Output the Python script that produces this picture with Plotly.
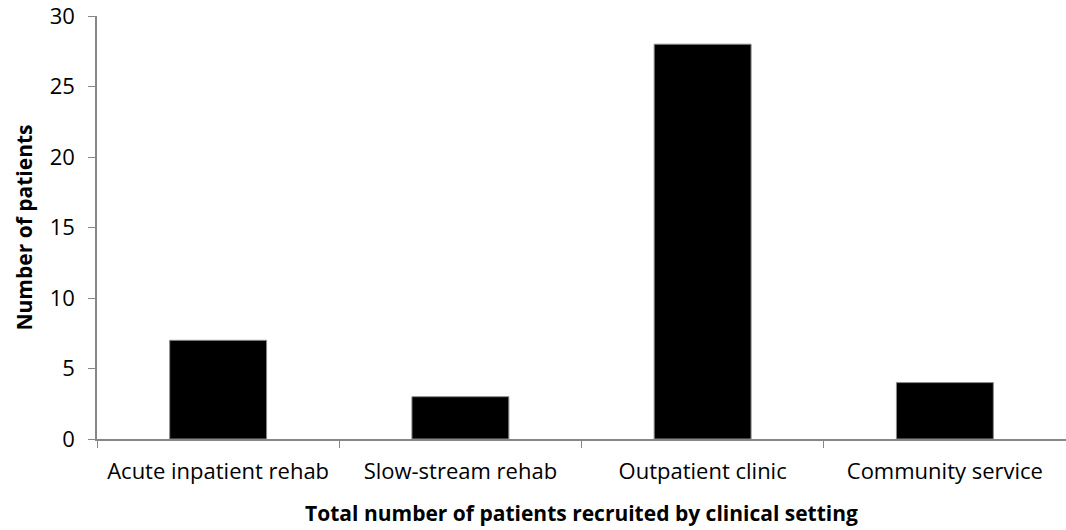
import plotly.graph_objects as go

categories = ["Acute inpatient rehab", "Slow-stream rehab", "Outpatient clinic", "Community service"]
patients = [7, 3, 28, 4]
y_ticks = [0, 5, 10, 15, 20, 25, 30]

fig = go.Figure(go.Bar(
    x=categories, y=patients, width=0.4,
    marker=dict(color="black", line=dict(color="#8a8a8a", width=1)),
))

font = "Open Sans, Liberation Sans, sans-serif"
fig.update_layout(
    width=1066, height=530,
    margin=dict(l=97, r=0, t=16, b=91, autoexpand=False),
    plot_bgcolor="white", paper_bgcolor="white",
    showlegend=False,
    font=dict(family=font, size=22, color="black"),
    xaxis=dict(
        range=[-0.5, 3.5], tickson="boundaries", ticks="outside", ticklen=7,
        tickcolor="#878787", showline=True, linecolor="#878787", linewidth=1.5,
        ticklabelstandoff=12, ticklabeloverflow="allow",
        title=dict(text="<b>Total number of patients recruited by clinical setting</b>",
                   font=dict(size=21), standoff=22),
        tickfont=dict(size=22),
    ),
    yaxis=dict(
        range=[0, 30], tickvals=y_ticks, ticks="outside", ticklen=7,
        tickcolor="#878787", showline=True, linecolor="#878787", linewidth=1.5,
        showgrid=False, zeroline=False,
        ticklabelstandoff=9, ticklabeloverflow="allow",
        tickfont=dict(size=22),
    ),
    annotations=[dict(
        text="<b>Number of patients</b>", textangle=-90, showarrow=False,
        xref="paper", yref="paper", x=(23 - 97) / 969, y=0.5,
        xanchor="center", yanchor="middle", font=dict(size=21),
    )],
)

fig.write_html("out.html", config={"displayModeBar": False},
               post_script="document.body.style.margin='0';document.body.style.overflow='hidden';")
